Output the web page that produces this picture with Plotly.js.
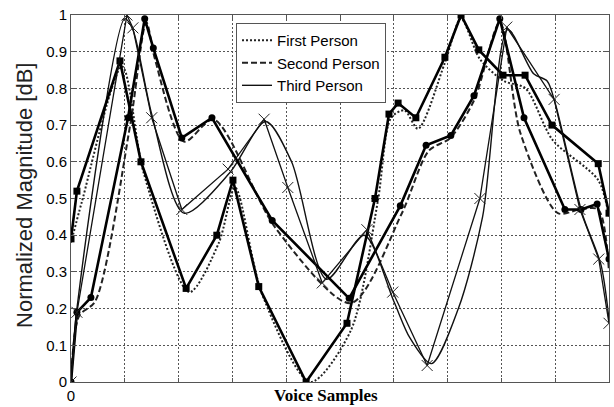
<!DOCTYPE html>
<html>
<head>
<meta charset="utf-8">
<script src="https://cdn.plot.ly/plotly-3.0.1.min.js"></script>
<style>html,body{margin:0;padding:0;background:#fff;}#chart{width:614px;height:407px;}</style>
</head>
<body>
<div id="chart"></div>
<script>
// ---- data (x in axis units 0..10, y normalized magnitude) ----
const squareX = [0, 0.11, 0.91, 1.30, 2.14, 2.71, 3.01, 3.49, 4.37, 5.13, 5.65, 5.91, 6.08, 6.41, 6.95, 7.25, 7.58, 8.03, 8.44, 8.94, 9.80, 10.0];
const squareY = [0.39, 0.52, 0.875, 0.60, 0.255, 0.40, 0.55, 0.26, 0.0, 0.16, 0.50, 0.73, 0.76, 0.72, 0.885, 1.0, 0.905, 0.836, 0.836, 0.70, 0.595, 0.46];

const firstX = [0, 0.2, 0.95, 1.35, 2.2, 2.75, 3.05, 3.55, 4.45, 5.2, 5.7, 5.95, 6.2, 6.45, 6.95, 7.25, 7.6, 8.05, 8.45, 8.95, 9.8, 10];
const firstY = [0.38, 0.49, 0.86, 0.57, 0.245, 0.38, 0.53, 0.24, 0.0, 0.14, 0.49, 0.72, 0.74, 0.69, 0.87, 0.99, 0.88, 0.82, 0.8, 0.66, 0.55, 0.45];

const circleX = [0, 0.11, 0.37, 1.06, 1.37, 1.53, 2.06, 2.62, 3.74, 5.17, 6.12, 6.60, 7.06, 7.49, 7.97, 8.42, 9.18, 9.48, 9.78, 10];
const circleY = [0, 0.19, 0.23, 0.72, 0.99, 0.91, 0.665, 0.72, 0.44, 0.228, 0.48, 0.645, 0.672, 0.78, 0.99, 0.72, 0.47, 0.47, 0.485, 0.335];

const secondX = [0, 0.15, 0.45, 1.1, 1.4, 1.56, 2.1, 2.65, 3.8, 5.2, 6.15, 6.65, 7.05, 7.5, 7.97, 8.35, 9.05, 9.45, 9.8, 10];
const secondY = [0, 0.18, 0.22, 0.70, 0.98, 0.88, 0.655, 0.715, 0.42, 0.215, 0.46, 0.63, 0.665, 0.77, 0.98, 0.68, 0.46, 0.47, 0.47, 0.3];

const crossX = [0, 0.11, 1.04, 1.15, 1.50, 2.06, 2.92, 3.59, 4.03, 4.67, 5.50, 5.98, 6.62, 7.60, 8.10, 8.98, 9.46, 9.81, 10];
const crossY = [0, 0.19, 1.0, 0.965, 0.72, 0.47, 0.58, 0.716, 0.53, 0.27, 0.415, 0.245, 0.045, 0.50, 0.967, 0.77, 0.47, 0.335, 0.16];

const thirdX = [0, 0.11, 1.0, 1.15, 1.5, 2.1, 2.95, 3.62, 4.1, 4.75, 5.45, 6.0, 6.3, 6.7, 7.2, 7.65, 8.12, 8.6, 8.85, 9.0, 9.5, 9.85, 10];
const thirdY = [0, 0.2, 0.99, 0.96, 0.73, 0.46, 0.57, 0.71, 0.60, 0.28, 0.40, 0.22, 0.12, 0.05, 0.2, 0.45, 0.96, 0.84, 0.82, 0.76, 0.46, 0.32, 0.17];

const xTickVals = [0, 1, 2, 3, 4, 5, 6, 7, 8, 9, 10];
const xTickText = ['0', '', '', '', '', '', '', '', '', '', ''];
const legendNames = ['First Person', 'Second Person', 'Third Person'];

const traces = [
  {x: firstX, y: firstY, type: 'scatter', mode: 'lines', name: legendNames[0],
   line: {color: '#222', width: 2, dash: '2px,2px', shape: 'spline', smoothing: 0.8}},
  {x: secondX, y: secondY, type: 'scatter', mode: 'lines', name: legendNames[1],
   line: {color: '#222', width: 2, dash: '6px,3px', shape: 'spline', smoothing: 0.8}},
  {x: thirdX, y: thirdY, type: 'scatter', mode: 'lines', name: legendNames[2],
   line: {color: '#111', width: 1.4, shape: 'spline', smoothing: 0.8}},
  {x: squareX, y: squareY, type: 'scatter', mode: 'lines+markers', showlegend: false,
   line: {color: '#000', width: 2.6}, marker: {symbol: 'square', size: 7, color: '#000'}},
  {x: circleX, y: circleY, type: 'scatter', mode: 'lines+markers', showlegend: false,
   line: {color: '#000', width: 2.6}, marker: {symbol: 'circle', size: 7, color: '#000'}},
  {x: crossX, y: crossY, type: 'scatter', mode: 'lines+markers', showlegend: false,
   line: {color: '#111', width: 1.3}, marker: {symbol: 'x-thin-open', size: 11, color: '#222', line: {width: 1, color: '#222'}}}
];

const font = 'Liberation Sans, Arial, sans-serif';
const layout = {
  width: 614, height: 407,
  margin: {l: 71, r: 5, t: 15, b: 25},
  paper_bgcolor: '#fff', plot_bgcolor: '#fff',
  font: {family: font, size: 15, color: '#000'},
  xaxis: {range: [0, 10], tickvals: xTickVals, ticktext: xTickText, showgrid: true,
          gridcolor: '#555', griddash: '2px,2px', gridwidth: 1, zeroline: false,
          showline: true, linecolor: '#555', linewidth: 1, mirror: 'ticks',
          ticks: 'inside', ticklen: 4, tickcolor: '#555', tickfont: {size: 15, family: font}},
  yaxis: {range: [0, 1], dtick: 0.1, tick0: 0, showgrid: true,
          gridcolor: '#555', griddash: '2px,2px', gridwidth: 1, zeroline: false,
          showline: true, linecolor: '#555', linewidth: 1, mirror: 'ticks',
          ticks: 'inside', ticklen: 4, tickcolor: '#555', tickfont: {size: 15, family: font}},
  showlegend: true,
  legend: {x: 0.3067, y: 0.978, xanchor: 'left', yanchor: 'top', bgcolor: '#fff',
           bordercolor: '#555', borderwidth: 1, font: {size: 15, family: font, color: '#000'},
           tracegroupgap: 0},
  annotations: [
    {text: 'Normalized Magnitude [dB]', xref: 'paper', yref: 'paper', x: -0.0855, y: 0.507,
     xanchor: 'center', yanchor: 'middle', textangle: -90, showarrow: false,
     font: {family: font, size: 22, color: '#222'}},
    {text: '<b>Voice Samples</b>', xref: 'paper', yref: 'paper', x: 0.474, y: -0.036,
     xanchor: 'center', yanchor: 'middle', showarrow: false,
     font: {family: 'Liberation Serif, Times New Roman, serif', size: 17, color: '#000'}}
  ]
};

Plotly.newPlot('chart', traces, layout, {displayModeBar: false, staticPlot: true});
</script>
</body>
</html>
